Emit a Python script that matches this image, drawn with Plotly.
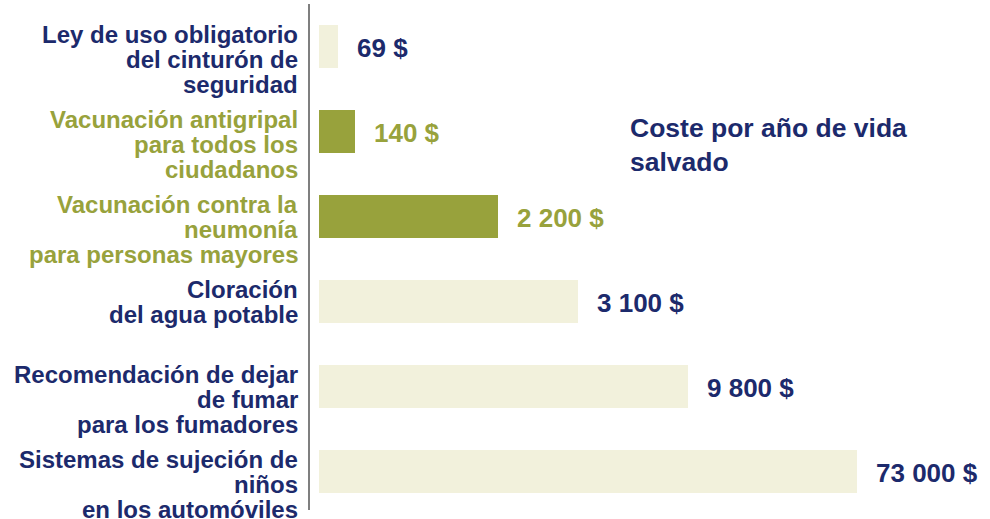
import plotly.graph_objects as go

categories = [
    ["Ley de uso obligatorio", "del cinturón de", "seguridad"],
    ["Vacunación antigripal", "para todos los", "ciudadanos"],
    ["Vacunación contra la", "neumonía", "para personas mayores"],
    ["Cloración", "del agua potable"],
    ["Recomendación de dejar", "de fumar", "para los fumadores"],
    ["Sistemas de sujeción de", "niños", "en los automóviles"],
]
cost_labels = ["69 $", "140 $", "2 200 $", "3 100 $", "9 800 $", "73 000 $"]
# visual bar lengths as drawn in the source (not proportional to cost)
bar_lengths = [19, 36, 179, 259, 369, 538]
highlight = [False, True, True, False, False, False]
title_text = "Coste por año de vida<br>salvado"

NAVY = "#1c2a6c"
OLIVE = "#98a23c"
LIGHT = "#f2f1dc"
FONT = "Liberation Sans, Arial, sans-serif"

ypos = list(range(len(categories)))
bar_colors = [OLIVE if h else LIGHT for h in highlight]
text_colors = [OLIVE if h else NAVY for h in highlight]

fig = go.Figure(go.Bar(
    x=bar_lengths, y=ypos, orientation="h",
    marker=dict(color=bar_colors, line=dict(width=0)),
    width=0.506, hoverinfo="skip",
))

annotations = []
for i, lines in enumerate(categories):
    for k, line in enumerate(lines):
        annotations.append(dict(
            text=f"<b>{line}</b>", xref="paper", x=0, xanchor="right", xshift=-10,
            yref="y", y=i, yanchor="middle", yshift=12.5 - 25 * k,
            showarrow=False, font=dict(family=FONT, size=24, color=text_colors[i]),
        ))
    annotations.append(dict(
        text=f"<b>{cost_labels[i]}</b>", xref="x", x=bar_lengths[i], xanchor="left", xshift=17,
        yref="y", y=i, yanchor="middle", yshift=-1,
        showarrow=False, font=dict(family=FONT, size=26, color=text_colors[i]),
    ))

annotations.append(dict(
    text=f"<b>{title_text}</b>", xref="paper", x=(628 - 310) / 680, xanchor="left",
    yref="y", y=1, yanchor="middle", yshift=-13, align="left",
    showarrow=False, font=dict(family=FONT, size=26.5, color=NAVY),
))

fig.update_layout(
    width=990, height=519,
    margin=dict(l=310, r=0, t=4, b=9),
    paper_bgcolor="white", plot_bgcolor="white",
    showlegend=False,
    xaxis=dict(range=[-9, 671], visible=False, fixedrange=True),
    yaxis=dict(range=[5.453, -0.5], showticklabels=False, ticks="", showgrid=False,
               zeroline=False, showline=True, linecolor="#7f7f7f", linewidth=2,
               fixedrange=True),
    annotations=annotations,
)

fig.write_html("out.html", config={"displayModeBar": False},
               post_script="document.body.style.margin='0';document.body.style.overflow='hidden';")
